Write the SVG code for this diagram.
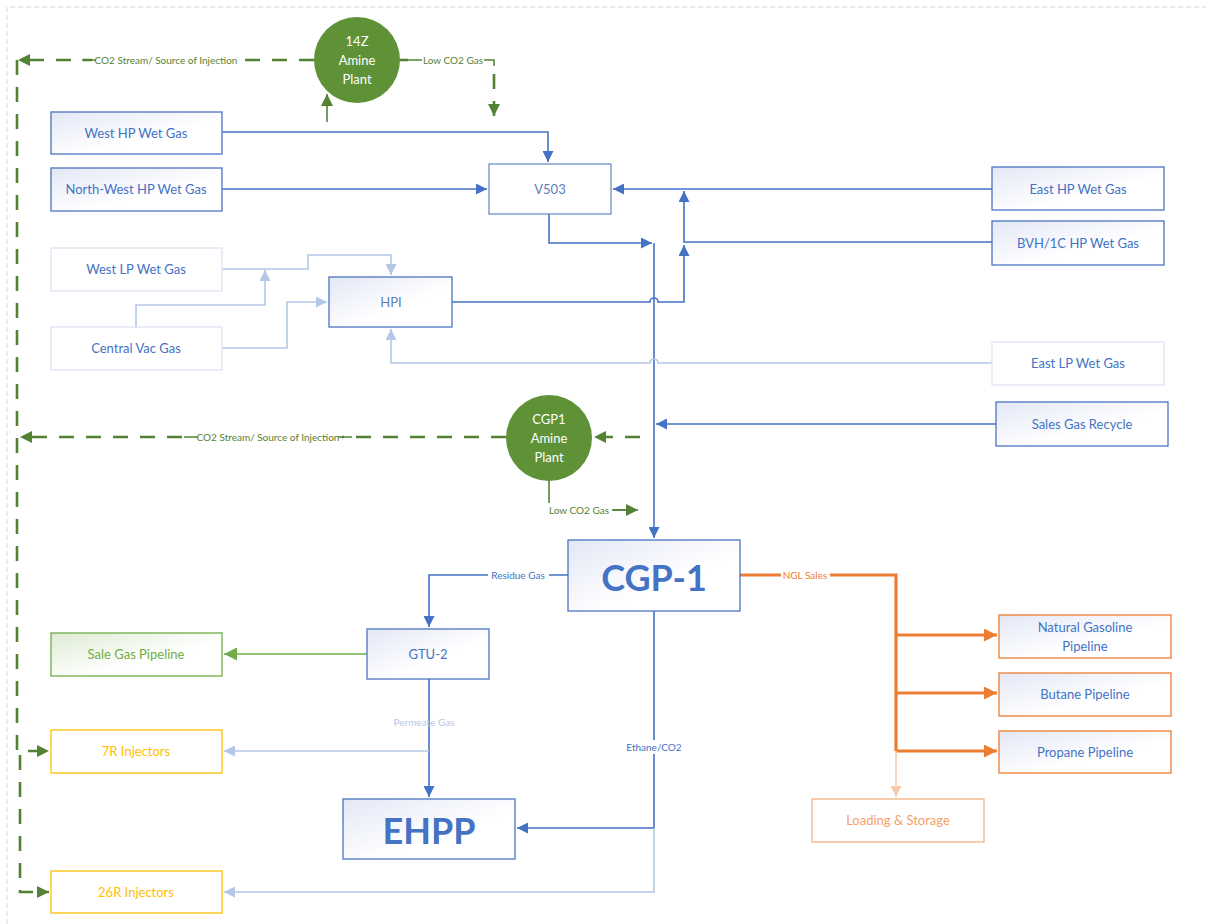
<svg xmlns="http://www.w3.org/2000/svg" width="1206" height="924" viewBox="0 0 1206 924">
<style>
.t{font-family:Lato,"Liberation Sans",sans-serif;font-size:13px;text-anchor:middle;dominant-baseline:central}
.big{font-size:36px;font-weight:bold}
.blue{fill:#4472C4}
.lbl{font-family:Lato,"Liberation Sans",sans-serif;font-size:10px;text-anchor:middle;dominant-baseline:central}
.nb{stroke:#4A74C0;stroke-width:1.3;fill:url(#gb)}
.nw{stroke:#6E8FC8;stroke-width:1.3;fill:#fff}
.nl{stroke:#DCE3F2;stroke-width:1.3;fill:#fff}
.c{fill:none;stroke-width:1.6}
.cb{stroke:#4472C4}
.cl{stroke:#B4C7E7}
.cg{stroke:#548235;stroke-width:2.6;stroke-dasharray:15 12}
.co{stroke:#ED7D31;stroke-width:3.2}
</style>
<defs>
<linearGradient id="gb" x1="0" y1="0" x2="1" y2="1"><stop offset="0" stop-color="#E3E8F6"/><stop offset="0.6" stop-color="#fff"/></linearGradient>
<linearGradient id="gg" x1="0" y1="0" x2="1" y2="1"><stop offset="0" stop-color="#DDEBD3"/><stop offset="0.6" stop-color="#fff"/></linearGradient>
<marker id="ab" viewBox="0 0 10 10" refX="10" refY="5" markerWidth="11" markerHeight="11" markerUnits="userSpaceOnUse" orient="auto"><path d="M0,0L10,5L0,10z" fill="#4472C4"/></marker>
<marker id="al" viewBox="0 0 10 10" refX="10" refY="5" markerWidth="11" markerHeight="11" markerUnits="userSpaceOnUse" orient="auto"><path d="M0,0L10,5L0,10z" fill="#B4C7E7"/></marker>
<marker id="ag" viewBox="0 0 10 10" refX="10" refY="5" markerWidth="12" markerHeight="12" markerUnits="userSpaceOnUse" orient="auto"><path d="M0,0L10,5L0,10z" fill="#548235"/></marker>
<marker id="ag2" viewBox="0 0 10 10" refX="10" refY="5" markerWidth="13" markerHeight="13" markerUnits="userSpaceOnUse" orient="auto"><path d="M0,0L10,5L0,10z" fill="#70AD47"/></marker>
<marker id="ao" viewBox="0 0 10 10" refX="10" refY="5" markerWidth="13" markerHeight="13" markerUnits="userSpaceOnUse" orient="auto"><path d="M0,0L10,5L0,10z" fill="#ED7D31"/></marker>
<marker id="aol" viewBox="0 0 10 10" refX="10" refY="5" markerWidth="11" markerHeight="11" markerUnits="userSpaceOnUse" orient="auto"><path d="M0,0L10,5L0,10z" fill="#F8CBAD"/></marker>
</defs>
<rect width="1206" height="924" fill="#fff"/>
<path d="M7,924V7H1206" fill="none" stroke="#D9D9D9" stroke-width="1" stroke-dasharray="5 3"/>

<g id="connectors">
<path class="c cb" d="M222,132H548V162" marker-end="url(#ab)"/>
<path class="c cb" d="M222,189H487" marker-end="url(#ab)"/>
<path class="c cb" d="M992,189H613" marker-end="url(#ab)"/>
<path class="c cb" d="M992,242H684V191" marker-end="url(#ab)"/>
<path class="c cb" d="M549,214V243H652" marker-end="url(#ab)"/>
<path class="c cb" d="M654,243V538" marker-end="url(#ab)"/>
<path class="c cb" d="M452,302H650A4,4 0 0 1 658,302H684V245" marker-end="url(#ab)"/>
<path class="c cl" d="M222,269H308V255H391V275" marker-end="url(#al)"/>
<path class="c cl" d="M136,327V305H265V270" marker-end="url(#al)"/>
<path class="c cl" d="M222,348H287V302H327" marker-end="url(#al)"/>
<path class="c cl" d="M992,363H658A4,4 0 0 0 650,363H391V329" marker-end="url(#al)"/>
<path class="c cb" d="M996,424H656" marker-end="url(#ab)"/>
<path class="c cg" d="M640,437H594" marker-end="url(#ag)"/>
<path class="c cg" d="M506,437H20" marker-end="url(#ag)"/>
<path class="c cg" d="M314,60H18" marker-end="url(#ag)"/>
<path class="c cg" d="M17,60V751H49" marker-end="url(#ag)"/>
<path class="c cg" d="M20,755V892H49" marker-end="url(#ag)"/>
<path class="c" stroke="#548235" stroke-width="2.6" d="M327,122V94" marker-end="url(#ag)"/>
<path class="c cg" d="M400,60H494V116" marker-end="url(#ag)"/>
<path class="c" stroke="#548235" stroke-width="2.6" d="M549,481V510H638" marker-end="url(#ag)"/>
<path class="c cb" d="M568,575H429V627" marker-end="url(#ab)"/>
<path class="c co" d="M740,575H896V751"/>
<path class="c co" d="M896,635H997" marker-end="url(#ao)"/>
<path class="c co" d="M896,693H997" marker-end="url(#ao)"/>
<path class="c co" d="M896,751H997" marker-end="url(#ao)"/>
<path class="c" stroke="#F8CBAD" stroke-width="1.6" d="M896,751V797" marker-end="url(#aol)"/>
<path class="c" stroke="#70AD47" stroke-width="3" d="M367,654H224" marker-end="url(#ag2)"/>
<path class="c cb" d="M429,679V797" marker-end="url(#ab)"/>
<path class="c cl" d="M429,751H224" marker-end="url(#al)"/>
<path class="c cb" d="M654,611V828H517" marker-end="url(#ab)"/>
<path class="c cl" d="M654,828V892H224" marker-end="url(#al)"/>
<g>
<rect x="92" y="53" width="148" height="14" fill="#fff"/>
<path d="M82,60H236" stroke="#548235" stroke-width="1.6"/>
<rect x="96" y="54" width="140" height="12" fill="#fff"/>
<text class="lbl" x="166" y="60" fill="#548235">CO2 Stream/ Source of Injection</text>
<rect x="194" y="430" width="148" height="14" fill="#fff"/>
<path d="M184,437H352" stroke="#548235" stroke-width="1.6"/>
<rect x="198" y="431" width="140" height="12" fill="#fff"/>
<text class="lbl" x="268" y="437" fill="#548235">CO2 Stream/ Source of Injection</text>
<rect x="408" y="53" width="90" height="14" fill="#fff"/>
<path d="M400,60H494V66" fill="none" stroke="#548235" stroke-width="1.6"/>
<rect x="422" y="54" width="62" height="12" fill="#fff"/>
<text class="lbl" x="453" y="60" fill="#548235">Low CO2 Gas</text>
<rect x="545" y="503" width="68" height="14" fill="#fff"/>
<path d="M612,510H628" stroke="#548235" stroke-width="1.6"/>
<text class="lbl" x="579" y="510" fill="#548235">Low CO2 Gas</text>
<rect x="488" y="568" width="61" height="14" fill="#fff"/>
<text class="lbl" x="518" y="575" fill="#4472C4">Residue Gas</text>
<rect x="781" y="568" width="49" height="14" fill="#fff"/>
<text class="lbl" x="805" y="575" fill="#ED7D31">NGL Sales</text>
<text class="lbl" x="424" y="722" fill="#B4C7E7">Permeate Gas</text>
<rect x="622" y="740" width="64" height="14" fill="#fff"/>
<text class="lbl" x="654" y="747" fill="#4472C4">Ethane/CO2</text>
</g>
</g>

<g id="n-westhp"><rect class="nb" x="51" y="112" width="171" height="42"/><text class="t blue" x="136" y="133">West HP Wet Gas</text></g>
<g id="n-nwhp"><rect class="nb" x="51" y="168" width="171" height="43"/><text class="t blue" x="136" y="189">North-West HP Wet Gas</text></g>
<g id="n-v503"><rect class="nw" x="489" y="164" width="122" height="50"/><text class="t" fill="#5B7FB8" x="550" y="189">V503</text></g>
<g id="n-easthp"><rect class="nb" x="992" y="167" width="172" height="43"/><text class="t blue" x="1078" y="189">East HP Wet Gas</text></g>
<g id="n-bvh"><rect class="nb" x="992" y="221" width="172" height="44"/><text class="t blue" x="1078" y="243">BVH/1C HP Wet Gas</text></g>
<g id="n-westlp"><rect class="nl" x="51" y="248" width="171" height="43"/><text class="t blue" x="136" y="269">West LP Wet Gas</text></g>
<g id="n-centralvac"><rect class="nl" x="51" y="327" width="171" height="43"/><text class="t blue" x="136" y="348">Central Vac Gas</text></g>
<g id="n-hpi"><rect class="nb" x="329" y="277" width="123" height="50"/><text class="t" fill="#5B7FB8" x="391" y="302">HPI</text></g>
<g id="n-eastlp"><rect class="nl" x="992" y="342" width="172" height="43"/><text class="t blue" x="1078" y="363">East LP Wet Gas</text></g>
<g id="n-sgr"><rect class="nb" x="996" y="402" width="172" height="44"/><text class="t blue" x="1082" y="424">Sales Gas Recycle</text></g>
<g id="n-14z"><circle cx="357" cy="60" r="43" fill="#5F9137"/><text class="t" fill="#fff" x="357" y="41">14Z</text><text class="t" fill="#fff" x="357" y="60">Amine</text><text class="t" fill="#fff" x="357" y="79">Plant</text></g>
<g id="n-cgp1amine"><circle cx="549" cy="438" r="43" fill="#5F9137"/><text class="t" fill="#fff" x="549" y="419">CGP1</text><text class="t" fill="#fff" x="549" y="438">Amine</text><text class="t" fill="#fff" x="549" y="457">Plant</text></g>
<g id="n-cgp1"><rect class="nb" x="568" y="540" width="172" height="71"/><text class="t big blue" x="654" y="577">CGP-1</text></g>
<g id="n-gtu2"><rect class="nb" x="367" y="629" width="122" height="50"/><text class="t blue" x="428" y="654">GTU-2</text></g>
<g id="n-salegas"><rect x="51" y="633" width="171" height="43" fill="url(#gg)" stroke="#70AD47" stroke-width="1.3"/><text class="t" fill="#70AD47" x="136" y="654">Sale Gas Pipeline</text></g>
<g id="n-7r"><rect x="51" y="730" width="171" height="43" fill="#fff" stroke="#FFC000" stroke-width="1.3"/><text class="t" fill="#FFC000" x="136" y="751">7R Injectors</text></g>
<g id="n-ehpp"><rect class="nb" x="343" y="799" width="172" height="60"/><text class="t big blue" x="429" y="830">EHPP</text></g>
<g id="n-26r"><rect x="51" y="871" width="171" height="42" fill="#fff" stroke="#FFC000" stroke-width="1.3"/><text class="t" fill="#FFC000" x="136" y="892">26R Injectors</text></g>
<g id="n-natgas"><rect x="999" y="615" width="172" height="43" fill="url(#gb)" stroke="#ED7D31" stroke-width="1.3"/><text class="t blue" x="1085" y="627">Natural Gasoline</text><text class="t blue" x="1085" y="646">Pipeline</text></g>
<g id="n-butane"><rect x="999" y="673" width="172" height="43" fill="url(#gb)" stroke="#ED7D31" stroke-width="1.3"/><text class="t blue" x="1085" y="694">Butane Pipeline</text></g>
<g id="n-propane"><rect x="999" y="731" width="172" height="42" fill="url(#gb)" stroke="#ED7D31" stroke-width="1.3"/><text class="t blue" x="1085" y="752">Propane Pipeline</text></g>
<g id="n-loading"><rect x="812" y="799" width="172" height="43" fill="#fff" stroke="#F4B183" stroke-width="1.3"/><text class="t" fill="#F4A06A" x="898" y="820">Loading &amp; Storage</text></g>
</svg>
